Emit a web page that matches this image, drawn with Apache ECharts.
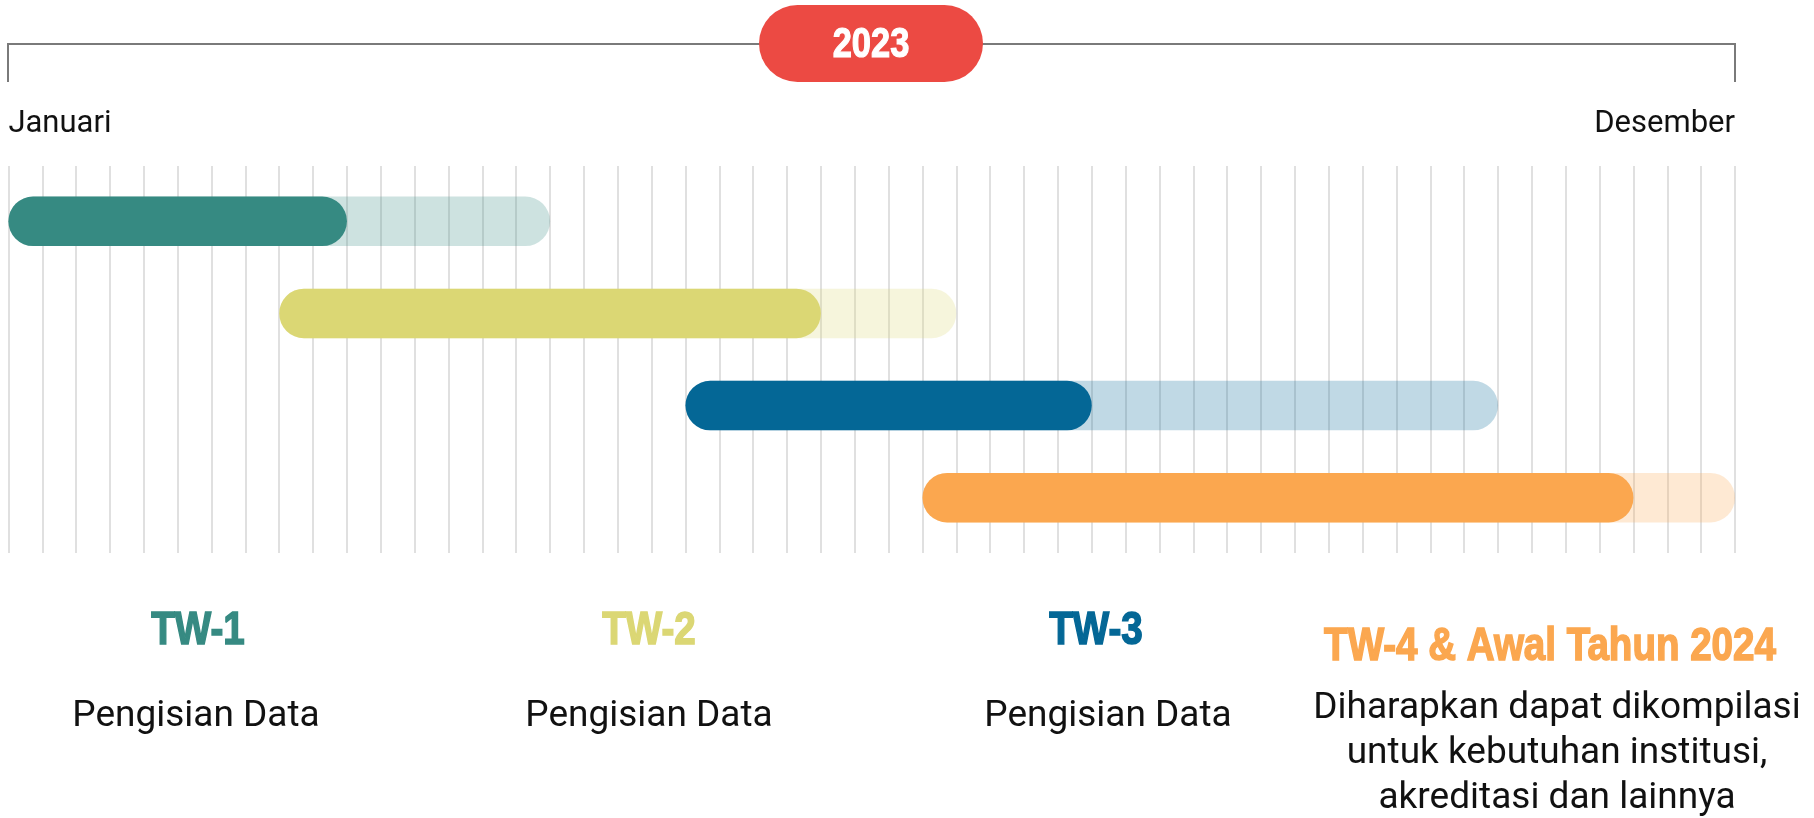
<!DOCTYPE html>
<html>
<head>
<meta charset="utf-8">
<script src="https://cdn.jsdelivr.net/npm/echarts@6/dist/echarts.min.js"></script>
<style>
html,body{margin:0;padding:0;background:#fff;}
#chart{width:1814px;height:818px;}
</style>
</head>
<body>
<div id="chart"></div>
<script>
// ---- data ----
const yearLabel = '2023';
const monthLabels = ['Januari', 'Desember'];
const firstWeek = 1;
const lastWeek = 52;
const phases = ['TW-1', 'TW-2', 'TW-3', 'TW-4 & Awal Tahun 2024'];
const descriptions = [
  'Pengisian Data',
  'Pengisian Data',
  'Pengisian Data',
  'Diharapkan dapat dikompilasi\nuntuk kebutuhan institusi,\nakreditasi dan lainnya'
];
const startWeek = [1, 9, 21, 28];
const doneWeek = [11, 25, 33, 49];
const planWeek = [17, 29, 45, 52];

// ---- styles ----
const colors = ['#368A82', '#DBD774', '#046796', '#FBA74F'];
const heavy = '"Liberation Sans", Arial, sans-serif';
const body = 'Roboto, "Noto Sans", sans-serif';

const planData = phases.map((p, i) => [i, startWeek[i], planWeek[i]]);
const doneData = phases.map((p, i) => [i, startWeek[i], doneWeek[i]]);

function pill(opacity) {
  return function (params, api) {
    const row = api.value(0);
    const p0 = api.coord([api.value(1), row]);
    const p1 = api.coord([api.value(2), row]);
    const h = Math.abs(api.size([0, 0.537])[1]);
    return {
      type: 'rect',
      shape: { x: p0[0], y: p0[1] - h / 2, width: p1[0] - p0[0], height: h, r: h / 2 },
      style: { fill: colors[row], opacity: opacity }
    };
  };
}

const headingX = [198, 649, 1096, 1550];
const headingY = [631.5, 631.5, 631.5, 647.5];
const descX = [196, 649, 1108, 1557];
const descTop = [694, 694, 694, 686.5];

const graphics = [
  {
    type: 'polyline', z: 1,
    shape: { points: [[8, 82], [8, 44], [1735, 44], [1735, 82]] },
    style: { stroke: '#7a7a7a', lineWidth: 2, fill: null }
  },
  {
    type: 'rect', z: 2,
    shape: { x: 759, y: 5, width: 224, height: 77, r: 38.5 },
    style: { fill: '#EC4A43' }
  },
  {
    type: 'text', z: 3, x: 871, y: 45, scaleX: 0.82,
    style: { text: yearLabel, font: 'bold 42px ' + heavy, fill: '#fff', stroke: '#fff', lineWidth: 1.2,
             align: 'center', verticalAlign: 'middle' }
  }
];
phases.forEach((p, i) => {
  graphics.push({
    type: 'text', x: headingX[i], y: headingY[i], scaleX: 0.82,
    style: { text: p, font: 'bold 47px ' + heavy, fill: colors[i], stroke: colors[i], lineWidth: 1.6,
             align: 'center', verticalAlign: 'middle' }
  });
  graphics.push({
    type: 'text', x: descX[i], y: descTop[i],
    style: { text: descriptions[i], font: '37px ' + body, lineHeight: 45, fill: '#111', align: 'center', verticalAlign: 'top' }
  });
});

const chart = echarts.init(document.getElementById('chart'));
chart.setOption({
  animation: false,
  backgroundColor: '#fff',
  grid: { left: 8.4, right: 79, top: 166, bottom: 265 },
  xAxis: {
    type: 'value', position: 'top', min: firstWeek, max: lastWeek, interval: 1,
    axisLine: { show: false }, axisTick: { show: false },
    splitLine: { show: true, lineStyle: { color: '#d6d6d6', width: 1.5 } },
    axisLabel: {
      show: true, margin: 26, fontFamily: body, fontSize: 31, color: '#111',
      alignMinLabel: 'left', alignMaxLabel: 'right',
      formatter: v => v === firstWeek ? monthLabels[0] : (v === lastWeek ? monthLabels[1] : '')
    }
  },
  yAxis: {
    type: 'value', inverse: true, min: -0.6, max: 3.6,
    axisLine: { show: false }, axisTick: { show: false }, axisLabel: { show: false }, splitLine: { show: false }
  },
  series: [
    { type: 'custom', name: 'plan', renderItem: pill(0.25), data: planData, encode: { x: [1, 2], y: 0 }, z: 3 },
    { type: 'custom', name: 'done', renderItem: pill(1), data: doneData, encode: { x: [1, 2], y: 0 }, z: 4 }
  ],
  graphic: graphics
});
</script>
</body>
</html>
